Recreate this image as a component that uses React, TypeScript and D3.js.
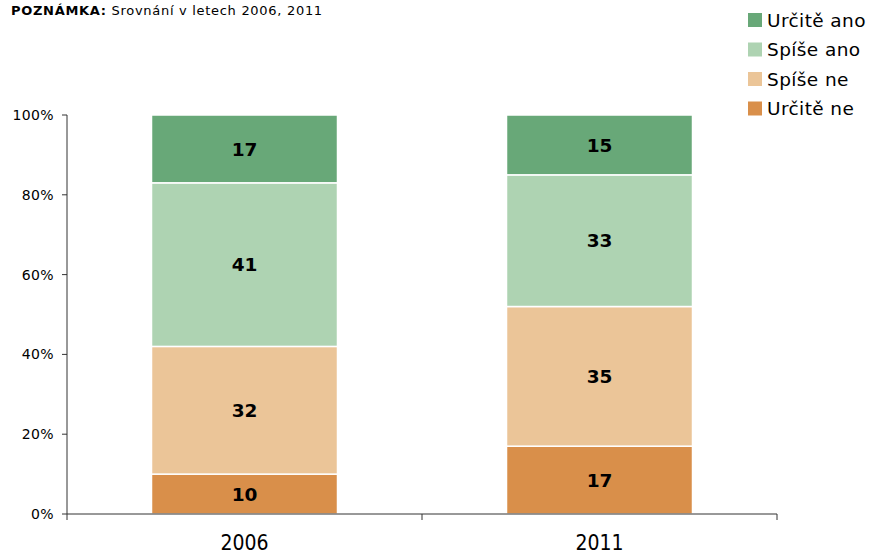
import React from "react";
import * as d3 from "d3";

const years = ["2006", "2011"];
const seriesNames = ["Určitě ne", "Spíše ne", "Spíše ano", "Určitě ano"];
const urciteNe = [10, 17];
const spiseNe = [32, 35];
const spiseAno = [41, 33];
const urciteAno = [17, 15];
const colors = ["#D98F4A", "#EBC598", "#AED3B2", "#68A878"];
const yTicks = [0, 20, 40, 60, 80, 100];
const legendOrder = [3, 2, 1, 0];

export default function App() {
  const W = 874, H = 554;
  const left = 67, right = 777, top = 115, bottom = 514;
  const x = d3.scaleBand<string>().domain(years).range([left, right]).paddingInner(0).paddingOuter(0);
  const y = d3.scaleLinear().domain([0, 100]).range([bottom, top]);
  const barW = 186;

  const rows = years.map((yr, i) => ({
    year: yr,
    v0: urciteNe[i], v1: spiseNe[i], v2: spiseAno[i], v3: urciteAno[i],
  }));
  const stack = d3.stack<any>().keys(["v0", "v1", "v2", "v3"]);
  const layers = stack(rows);

  const font = "'DejaVu Sans', sans-serif";

  return (
    <svg width={W} height={H} style={{ position: "absolute", left: 0, top: 0, background: "#fff" }} fontFamily={font}>
      <rect x={0} y={0} width={W} height={H} fill="#fff" />
      <text x={11} y={15} fontSize={13} letterSpacing={0.7}>
        <tspan fontWeight="bold">POZNÁMKA:</tspan>
        <tspan> Srovnání v letech 2006, 2011</tspan>
      </text>

      {layers.map((layer, li) => (
        <g key={li}>
          {layer.map((d, i) => {
            const cx = (x(years[i]) as number) + x.bandwidth() / 2;
            const y0 = y(d[0]);
            const y1 = y(d[1]);
            const val = d[1] - d[0];
            return (
              <g key={i}>
                <rect x={cx - barW / 2} y={y1} width={barW} height={y0 - y1} fill={colors[li]} stroke="#fff" strokeWidth={1.5} />
                <text x={cx} y={(y0 + y1) / 2} dy="0.36em" textAnchor="middle" fontWeight="bold" fontSize={18.5}>
                  {val}
                </text>
              </g>
            );
          })}
        </g>
      ))}

      {/* y axis */}
      <line x1={left} x2={left} y1={top} y2={bottom} stroke="#333" strokeWidth={1} />
      {yTicks.map((t) => (
        <g key={t}>
          <line x1={left - 5} x2={left} y1={y(t)} y2={y(t)} stroke="#333" />
          <text x={left - 13} y={y(t)} dy="0.36em" textAnchor="end" fontSize={14} letterSpacing={0.4}>
            {t}%
          </text>
        </g>
      ))}
      {/* x axis */}
      <line x1={left} x2={right} y1={bottom} y2={bottom} stroke="#333" />
      {[left, left + x.bandwidth(), right].map((px, i) => (
        <line key={i} x1={px} x2={px} y1={bottom} y2={bottom + 6} stroke="#333" />
      ))}
      {years.map((yr) => (
        <text key={yr} x={(x(yr) as number) + x.bandwidth() / 2} y={550} textAnchor="middle" fontSize={21}
          fontFamily="'DejaVu Sans Condensed', 'DejaVu Sans', sans-serif" fontStretch="condensed">
          {yr}
        </text>
      ))}

      {/* legend */}
      {legendOrder.map((si, i) => (
        <g key={si} transform={`translate(748, ${13 + i * 29.5})`}>
          <rect x={0} y={0} width={14} height={14} fill={colors[si]} />
          <text x={19} y={7} dy="0.36em" fontSize={18.5} letterSpacing={0.4}>
            {seriesNames[si]}
          </text>
        </g>
      ))}
    </svg>
  );
}
